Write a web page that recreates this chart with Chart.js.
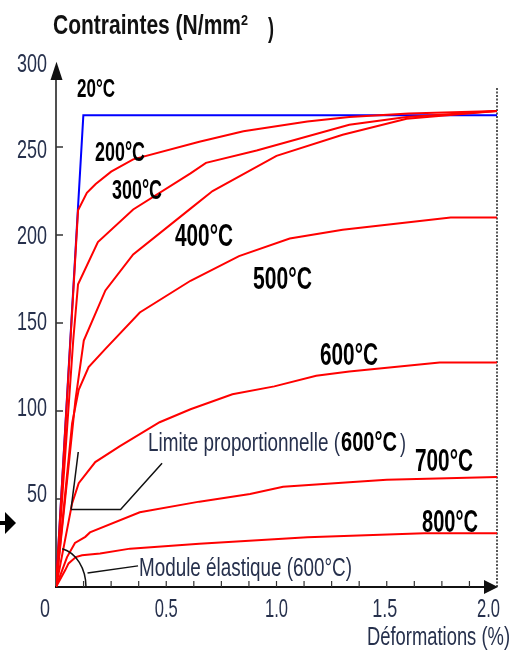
<!DOCTYPE html>
<html>
<head>
<meta charset="utf-8">
<script src="https://cdn.jsdelivr.net/npm/chart.js@4.4.1/dist/chart.umd.min.js"></script>
<style>
  html, body { margin: 0; padding: 0; background: #fff; }
  canvas { display: block; }
</style>
</head>
<body>
<canvas id="chart" width="519" height="653"></canvas>
<script>
// valeurs : déformation (%) / contrainte (N/mm2)
const strain20 = [0, 0.124, 2.0];
const stress20 = [0, 268, 268];

const strain200 = [0, 0.1, 0.14, 0.18, 0.25, 0.35, 0.65, 0.85, 1.14, 1.33, 1.6, 2.0];
const stress200 = [0, 214, 224, 229, 236, 243, 253, 259, 264.5, 267, 269, 270.5];

const strain300 = [0, 0.078, 0.1, 0.19, 0.35, 0.61, 0.68, 0.91, 1.33, 1.59, 2.0];
const stress300 = [0, 140, 172, 196, 214.5, 235, 241, 248, 262.6, 267, 270.5];

const strain400 = [0, 0.088, 0.126, 0.224, 0.35, 0.61, 0.71, 1.0, 1.3, 1.59, 2.0];
const stress400 = [0, 106, 140, 168.5, 189, 215, 225, 245, 257, 266, 270.5];

const strain500 = [0, 0.073, 0.103, 0.148, 0.222, 0.38, 0.61, 0.83, 1.06, 1.3, 1.79, 2.0];
const stress500 = [0, 93, 112, 125, 135, 156, 174, 188, 198, 203, 210, 210];

const strain600 = [0, 0.073, 0.103, 0.178, 0.29, 0.47, 0.61, 0.8, 0.99, 1.18, 1.33, 1.74, 2.0];
const stress600 = [0, 47.5, 59, 71, 80, 93.6, 101, 109.5, 114, 120, 122.5, 127.6, 127.6];

const strain700 = [0, 0.05, 0.086, 0.133, 0.154, 0.38, 0.65, 0.88, 1.03, 1.33, 1.5, 2.0];
const stress700 = [0, 17, 25, 28.5, 31, 42.5, 48.5, 52.8, 57, 59.5, 61, 62.5];

const strain800 = [0, 0.042, 0.057, 0.09, 0.118, 0.2, 0.336, 0.65, 1.14, 1.67, 2.0];
const stress800 = [0, 9.6, 13.4, 17, 18, 19, 21.8, 24.6, 28.2, 30.5, 30.5];

const xTickValues = [0, 0.5, 1.0, 1.5, 2.0];
const xTickLabels = ['0', '0.5', '1.0', '1.5', '2.0'];
const yTickValues = [50, 100, 150, 200, 250, 300];
const yTickLabels = ['50', '100', '150', '200', '250', '300'];

const NARROW = '"Liberation Sans Narrow", "Liberation Sans", Arial, sans-serif';

function pts(xs, ys) {
  return xs.map((v, i) => ({ x: v, y: ys[i] }));
}

// texte étiré à une largeur donnée (police étroite façon Arial Narrow)
function fitText(ctx, str, left, base, width, font, color) {
  ctx.save();
  ctx.font = font;
  const w = ctx.measureText(str).width;
  ctx.translate(left, base);
  ctx.scale(width / w, 1);
  ctx.fillStyle = color;
  ctx.textBaseline = 'alphabetic';
  ctx.textAlign = 'left';
  ctx.fillText(str, 0, 0);
  ctx.restore();
}

function line(ctx, pts, color, width) {
  ctx.beginPath();
  ctx.moveTo(pts[0][0], pts[0][1]);
  for (let i = 1; i < pts.length; i++) ctx.lineTo(pts[i][0], pts[i][1]);
  ctx.strokeStyle = color;
  ctx.lineWidth = width;
  ctx.stroke();
}

const decor = {
  id: 'decor',
  beforeDatasetsDraw(chart) {
    const { ctx, scales: { x, y } } = chart;
    const x0 = x.getPixelForValue(0), y0 = y.getPixelForValue(0);
    const xEnd = x.getPixelForValue(2.0);
    ctx.save();

    // axe vertical + flèche
    line(ctx, [[x0, y0], [x0, y.getPixelForValue(290)]], '#505050', 2);
    ctx.beginPath();
    ctx.moveTo(x0 + 0.5, y.getPixelForValue(298.5));
    ctx.lineTo(x0 - 5.5, y.getPixelForValue(288));
    ctx.lineTo(x0 + 6.5, y.getPixelForValue(288));
    ctx.closePath();
    ctx.fillStyle = '#111';
    ctx.fill();

    // graduations Y (vers l'intérieur)
    yTickValues.slice(0, 5).forEach(v => {
      const py = y.getPixelForValue(v);
      line(ctx, [[x0, py], [x0 + 7, py]], '#333', 1.5);
    });

    // axe horizontal + flèche
    line(ctx, [[x0 - 1, y0], [xEnd - 12, y0]], '#111', 2);
    ctx.beginPath();
    ctx.moveTo(xEnd + 1, y0);
    ctx.lineTo(xEnd - 13, y0 - 7);
    ctx.lineTo(xEnd - 13, y0 + 7);
    ctx.closePath();
    ctx.fillStyle = '#111';
    ctx.fill();

    // petites graduations X tous les 0.125
    for (let i = 1; i < 16; i++) {
      const px = x.getPixelForValue(i * 0.125);
      line(ctx, [[px, y0], [px, y0 - 6]], '#333', 1.2);
    }

    // pointillés à 2.0 %
    ctx.setLineDash([2, 1.5]);
    line(ctx, [[xEnd, y0], [xEnd, y.getPixelForValue(284)]], '#222', 1.5);
    ctx.setLineDash([]);

    // flèche à gauche
    ctx.fillStyle = '#000';
    ctx.fillRect(0, 521, 6, 4);
    ctx.beginPath();
    ctx.moveTo(5, 512);
    ctx.lineTo(16, 523);
    ctx.lineTo(5, 534);
    ctx.closePath();
    ctx.fill();

    ctx.restore();
  },
  afterDraw(chart) {
    const { ctx, scales: { x, y } } = chart;
    const P = (vx, vy) => [x.getPixelForValue(vx), y.getPixelForValue(vy)];
    ctx.save();

    // limite proportionnelle (600°C)
    line(ctx, [P(0.101, 76.7), P(0.068, 44)], '#111', 1.5);
    line(ctx, [P(0.068, 44), P(0.293, 44), P(0.481, 70.3)], '#111', 1.5);

    // module élastique (600°C)
    const [ox, oy] = P(0, 0);
    const rx = x.getPixelForValue(0.136) - ox;
    const ry = oy - y.getPixelForValue(22.2);
    ctx.beginPath();
    ctx.ellipse(ox, oy, rx, ry, 0, -78 * Math.PI / 180, 0);
    ctx.strokeStyle = '#111';
    ctx.lineWidth = 1.5;
    ctx.stroke();
    line(ctx, [P(0.143, 8), P(0.372, 12)], '#111', 1.5);

    // titre
    fitText(ctx, 'Contraintes (N/mm', 53, 34, 188, 'bold 28px ' + NARROW, '#111');
    fitText(ctx, '2', 241, 25, 7, 'bold 14px ' + NARROW, '#111');
    fitText(ctx, ')', 268, 37, 6, 'bold 28px ' + NARROW, '#111');

    // graduations : textes
    const navy = '#26304c';
    yTickValues.forEach((v, i) => {
      const w = yTickLabels[i].length * 10;
      const base = y.getPixelForValue(v) + 1 + v * 0.04;
      fitText(ctx, yTickLabels[i], 47 - w, base, w, '25px ' + NARROW, navy);
    });
    const xShift = [-11, 0, 0, -2, -8.5];
    const xWidth = [10, 23, 23, 25, 23];
    xTickValues.forEach((v, i) => {
      const cx = x.getPixelForValue(v) + xShift[i];
      fitText(ctx, xTickLabels[i], cx - xWidth[i] / 2, 617, xWidth[i], '26px ' + NARROW, navy);
    });
    fitText(ctx, 'Déformations (%)', 367, 645, 143, '25px ' + NARROW, navy);

    // étiquettes des températures
    const lab = [
      ['20°C', 77, 97, 38, 26],
      ['200°C', 95, 161, 50, 27],
      ['300°C', 112, 199, 50, 27],
      ['400°C', 175, 246, 58, 31],
      ['500°C', 253, 289, 59, 31],
      ['600°C', 320, 365, 58, 31],
      ['700°C', 415, 471, 58, 31],
      ['800°C', 422, 532, 56, 31]
    ];
    lab.forEach(l => fitText(ctx, l[0], l[1], l[2], l[3], 'bold ' + l[4] + 'px ' + NARROW, '#000'));

    fitText(ctx, 'Limite proportionnelle (', 148, 451, 192, '26px ' + NARROW, navy);
    fitText(ctx, '600°C', 341, 451, 56, 'bold 27px ' + NARROW, '#000');
    fitText(ctx, ')', 400, 452, 6, '26px ' + NARROW, navy);
    fitText(ctx, 'Module élastique (600°C)', 139, 576, 213, '26px ' + NARROW, navy);

    ctx.restore();
  }
};

const red = (xs, ys) => ({
  data: pts(xs, ys),
  borderColor: '#ff0000',
  borderWidth: 2,
  showLine: true,
  pointRadius: 0,
  tension: 0,
  order: 0
});

new Chart(document.getElementById('chart'), {
  type: 'scatter',
  data: {
    datasets: [
      red(strain200, stress200),
      red(strain300, stress300),
      red(strain400, stress400),
      red(strain500, stress500),
      red(strain600, stress600),
      red(strain700, stress700),
      red(strain800, stress800),
      {
        data: pts(strain20, stress20),
        borderColor: '#0000ff',
        borderWidth: 2,
        showLine: true,
        pointRadius: 0,
        tension: 0,
        order: 1
      }
    ]
  },
  options: {
    responsive: false,
    animation: false,
    devicePixelRatio: 1,
    layout: { padding: { left: 56, right: 22, top: 59, bottom: 66 } },
    plugins: { legend: { display: false }, tooltip: { enabled: false } },
    scales: {
      x: { type: 'linear', min: 0, max: 2, display: false },
      y: { type: 'linear', min: 0, max: 300, display: false }
    }
  },
  plugins: [decor]
});
</script>
</body>
</html>
